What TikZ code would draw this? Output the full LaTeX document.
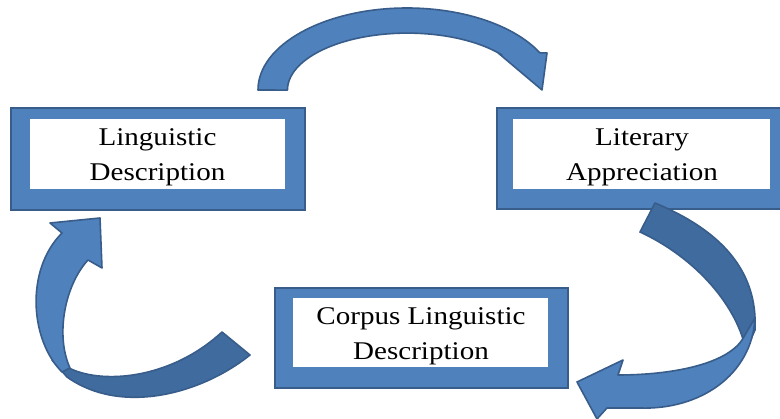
\documentclass[tikz,border=0pt]{standalone}
\usepackage{fontspec}
\setmainfont{Liberation Serif}[FakeStretch=1.14]
\definecolor{boxblue}{HTML}{4F81BD}
\definecolor{edgeblue}{HTML}{385D8A}
\definecolor{darkblue}{HTML}{3F6B9E}
\tikzset{
  outerbox/.style={fill=boxblue, draw=edgeblue, line width=1.8pt},
  innerbox/.style={fill=white, draw=none},
  lbl/.style={anchor=base, inner sep=0pt, font=\fontsize{25.5}{36}\selectfont, text=black},
  arrowlight/.style={fill=boxblue, draw=edgeblue, line width=1.6pt, line join=round},
  arrowdark/.style={fill=darkblue, draw=edgeblue, line width=1.6pt, line join=round}
}
\begin{document}
\begin{tikzpicture}[x=1pt,y=-1pt]
\useasboundingbox (0,0) rectangle (780,419);
\clip (0,0) rectangle (780,419);
\fill[white] (0,0) rectangle (780,419);
% boxes
\draw[outerbox] (11,108) rectangle (305,210);
\fill[innerbox] (30,119) rectangle (285,189);
\draw[outerbox] (497,108) rectangle (792,209);
\fill[innerbox] (513,119) rectangle (770,189);
\draw[outerbox] (275,288) rectangle (568,388);
\fill[innerbox] (293,298) rectangle (548,367);
% labels
\node[lbl] (ld1) at (157.5,146) {Linguistic};
\node[lbl] (ld2) at (157.5,181) {Description};
\node[lbl] (la1) at (642,146) {Literary};
\node[lbl] (la2) at (642,181) {Appreciation};
\node[lbl] (cl1) at (421,325) {Corpus Linguistic};
\node[lbl] (cl2) at (421,360) {Description};
% top arrow
\filldraw[arrowlight] (258,90) arc[start angle=180, end angle=333, x radius=149, y radius=82]
  -- (547,53) -- (542,90) -- (497,52) -- (502,55)
  arc[start angle=322, end angle=180, x radius=120, y radius=57] -- cycle;
% right arrow: back (dark) part
\filldraw[arrowdark] (655,203) .. controls (720,230) and (758,270) .. (755,330)
  -- (746,350) .. controls (735,300) and (690,255) .. (640,232) -- cycle;
% right arrow: front (light) part with head
\filldraw[arrowlight] (755,318) .. controls (752,375) and (700,410) .. (640,408)
  -- (607,408) -- (597,419) -- (577,382) -- (623,360) -- (618,375)
  .. controls (670,375) and (725,365) .. (742,340) -- cycle;
% left arrow: back (dark) part
\filldraw[arrowdark] (222,332) -- (250,355) .. controls (200,395) and (120,415) .. (67,377)
  -- (52,360) -- (67,367) .. controls (100,385) and (170,380) .. (222,332) -- cycle;
% left arrow: front (light) part with head
\filldraw[arrowlight] (62,372) .. controls (30,340) and (25,270) .. (62,233)
  -- (50,223) -- (100,218) -- (102,268) -- (88,260)
  .. controls (65,285) and (55,335) .. (70,368) -- cycle;
\end{tikzpicture}
\end{document}
